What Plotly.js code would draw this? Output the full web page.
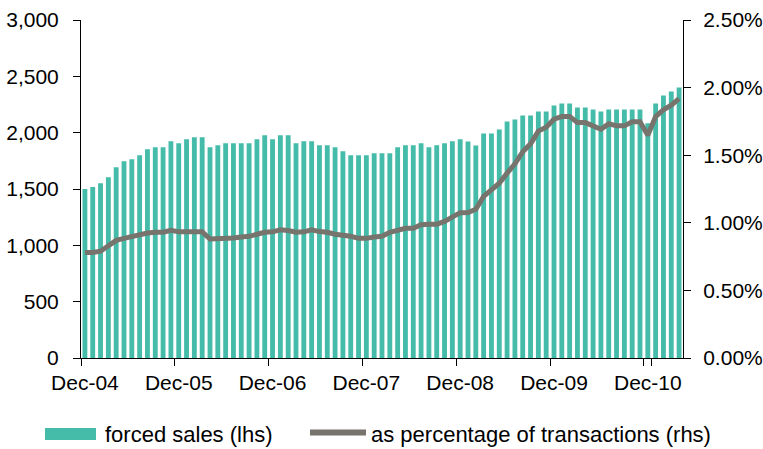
<!DOCTYPE html>
<html>
<head>
<meta charset="utf-8">
<script src="https://cdn.plot.ly/plotly-3.0.1.min.js"></script>
<style>html,body{margin:0;padding:0;background:#fff;}#chart{width:763px;height:449px;}</style>
</head>
<body>
<div id="chart"></div>
<script>
var months = [
 "Dec-04","Jan-05","Feb-05","Mar-05","Apr-05","May-05","Jun-05","Jul-05","Aug-05","Sep-05","Oct-05","Nov-05",
 "Dec-05","Jan-06","Feb-06","Mar-06","Apr-06","May-06","Jun-06","Jul-06","Aug-06","Sep-06","Oct-06","Nov-06",
 "Dec-06","Jan-07","Feb-07","Mar-07","Apr-07","May-07","Jun-07","Jul-07","Aug-07","Sep-07","Oct-07","Nov-07",
 "Dec-07","Jan-08","Feb-08","Mar-08","Apr-08","May-08","Jun-08","Jul-08","Aug-08","Sep-08","Oct-08","Nov-08",
 "Dec-08","Jan-09","Feb-09","Mar-09","Apr-09","May-09","Jun-09","Jul-09","Aug-09","Sep-09","Oct-09","Nov-09",
 "Dec-09","Jan-10","Feb-10","Mar-10","Apr-10","May-10","Jun-10","Jul-10","Aug-10","Sep-10","Oct-10","Nov-10",
 "Dec-10","Jan-11","Feb-11","Mar-11","Apr-11"
];
var forcedSales = [
 1500,1518,1550,1604,1693,1746,1764,1800,1852,1870,1870,1923,
 1906,1941,1959,1959,1870,1888,1906,1906,1906,1906,1941,1976,
 1941,1976,1976,1906,1923,1923,1888,1888,1870,1835,1799,1799,
 1799,1817,1817,1817,1870,1888,1888,1906,1870,1888,1906,1923,
 1941,1922,1887,1993,1993,2028,2099,2117,2152,2152,2188,2188,
 2241,2259,2259,2223,2223,2205,2188,2205,2205,2205,2205,2205,
 2083,2259,2329,2365,2400
];
var pctTransactions = [
 0.78,0.78,0.79,0.825,0.87,0.885,0.90,0.915,0.925,0.93,0.93,0.945,
 0.933,0.933,0.933,0.933,0.88,0.88,0.88,0.887,0.895,0.90,0.915,0.93,
 0.933,0.948,0.943,0.93,0.933,0.948,0.935,0.93,0.915,0.91,0.90,0.885,
 0.885,0.895,0.90,0.93,0.945,0.96,0.96,0.985,0.99,0.99,1.01,1.045,
 1.075,1.076,1.10,1.195,1.249,1.293,1.367,1.436,1.525,1.584,1.678,1.707,
 1.766,1.786,1.786,1.741,1.741,1.712,1.692,1.732,1.717,1.717,1.747,1.747,
 1.648,1.786,1.835,1.870,1.919
];
var tickLabels = ["Dec-04","Dec-05","Dec-06","Dec-07","Dec-08","Dec-09","Dec-10"];
var seriesNames = ["forced sales (lhs)", "as percentage of transactions (rhs)"];

var teal = "#45bca9";
var grey = "#77736d";
var fontFam = "'Liberation Sans', Arial, sans-serif";

var traces = [
 {type:"bar", x:months, y:forcedSales, name:seriesNames[0], marker:{color:teal, line:{width:0}}, yaxis:"y", showlegend:false, hoverinfo:"x+y"},
 {type:"scatter", mode:"lines", x:months, y:pctTransactions, name:seriesNames[1], yaxis:"y2",
  line:{color:grey, width:5, shape:"linear"}, showlegend:false}
];

var L = 81, R = 80, T = 20, B = 91;
var W = 763, H = 449;
var pw = W - L - R, ph = H - T - B;
function px(x){ return (x - L) / pw; }
function py(y){ return (H - B - y) / ph; }

var layout = {
 width: W, height: H,
 margin: {l:L, r:R, t:T, b:B, pad:0},
 paper_bgcolor:"#fff", plot_bgcolor:"#fff",
 font: {family: fontFam, size: 21, color: "#000"},
 bargap: 0.38,
 xaxis: {
  type:"category", range:[-0.5, months.length - 0.5],
  tickmode:"array", tickvals: tickLabels, ticktext: tickLabels,
  tickson:"boundaries", tickangle:0,
  ticks:"outside", ticklen:7, tickwidth:1, tickcolor:"#000",
  showline:true, linecolor:"#000", linewidth:1,
  showgrid:false, zeroline:false, ticklabelstandoff:6,
  tickfont:{size:21}
 },
 yaxis: {
  range:[0,3000], dtick:500, tick0:0, tickformat:",d",
  ticks:"outside", ticklen:7, tickwidth:1, tickcolor:"#000",
  showline:true, linecolor:"#000", linewidth:1,
  showgrid:false, zeroline:false, ticklabelstandoff:10,
  tickfont:{size:21}
 },
 yaxis2: {
  overlaying:"y", side:"right", range:[0,2.5], dtick:0.5, tick0:0,
  tickformat:".2f", ticksuffix:"%",
  ticks:"outside", ticklen:7, tickwidth:1, tickcolor:"#000",
  showline:true, linecolor:"#000", linewidth:1,
  showgrid:false, zeroline:false, ticklabelstandoff:8,
  tickfont:{size:21}
 },
 shapes: [
  {type:"rect", xref:"paper", yref:"paper", x0:px(45), x1:px(96), y0:py(440), y1:py(428), fillcolor:teal, line:{width:0}},
  {type:"line", xref:"paper", yref:"paper", x0:px(310), x1:px(366), y0:py(432.5), y1:py(432.5), line:{color:grey, width:6}}
 ],
 annotations: [
  {xref:"paper", yref:"paper", x:px(103), y:py(434), xanchor:"left", yanchor:"middle", text:seriesNames[0], showarrow:false, font:{size:22, color:"#000"}},
  {xref:"paper", yref:"paper", x:px(369), y:py(434), xanchor:"left", yanchor:"middle", text:seriesNames[1], showarrow:false, font:{size:22, color:"#000"}}
 ]
};

Plotly.newPlot("chart", traces, layout, {displayModeBar:false, staticPlot:true});
</script>
</body>
</html>
